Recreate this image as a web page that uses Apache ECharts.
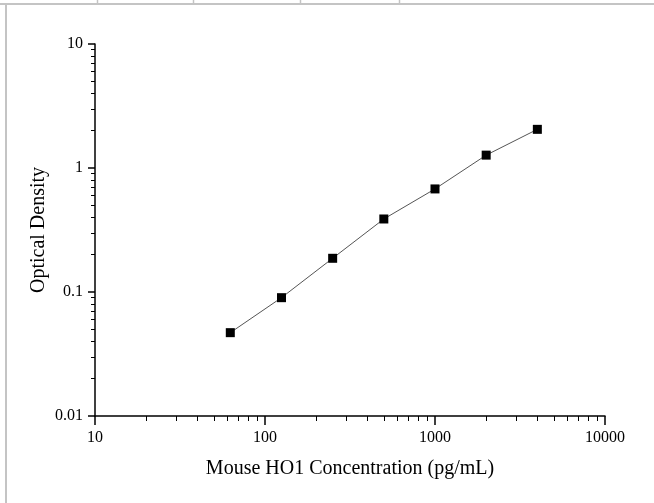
<!DOCTYPE html>
<html>
<head>
<meta charset="utf-8">
<script src="https://cdn.jsdelivr.net/npm/echarts@6/dist/echarts.min.js"></script>
<style>
html,body{margin:0;padding:0;background:#fff;}
#chart{width:654px;height:503px;}
</style>
</head>
<body>
<div id="chart"></div>
<script>
const concentrations = [62.5, 125, 250, 500, 1000, 2000, 4000];
const opticalDensity = [0.047, 0.090, 0.187, 0.388, 0.678, 1.27, 2.05];
const xMajorTicks = [10, 100, 1000, 10000];
const yMajorTicks = [0.01, 0.1, 1, 10];
const xMinorTicks = [20,30,40,50,60,70,80,90,200,300,400,500,600,700,800,900,2000,3000,4000,5000,6000,7000,8000,9000];
const yMinorTicks = [0.02,0.03,0.04,0.05,0.06,0.07,0.08,0.09,0.2,0.3,0.4,0.5,0.6,0.7,0.8,0.9,2,3,4,5,6,7,8,9];
const xTitle = 'Mouse HO1 Concentration (pg/mL)';
const yTitle = 'Optical Density';

const font = '"Liberation Serif", "Times New Roman", serif';
const chart = echarts.init(document.getElementById('chart'), null, {renderer: 'canvas'});

const axisLineStyle = {color: '#000', width: 1.5};
const labelStyle = {color: '#000', fontFamily: font, fontSize: 16};

chart.setOption({
  backgroundColor: '#fff',
  animation: false,
  grid: {left: 95, top: 44, right: 49, bottom: 87, containLabel: false},
  graphic: [
    {type: 'line', shape: {x1: 0, y1: 4, x2: 654, y2: 4}, style: {stroke: '#c4c4c4', lineWidth: 2}, silent: true},
    {type: 'line', shape: {x1: 6, y1: 4, x2: 6, y2: 503}, style: {stroke: '#c4c4c4', lineWidth: 2}, silent: true},
    {type: 'line', shape: {x1: 97.5, y1: 0, x2: 97.5, y2: 4}, style: {stroke: '#c4c4c4', lineWidth: 1.5}, silent: true},
    {type: 'line', shape: {x1: 193.5, y1: 0, x2: 193.5, y2: 4}, style: {stroke: '#c4c4c4', lineWidth: 1.5}, silent: true},
    {type: 'line', shape: {x1: 300.5, y1: 0, x2: 300.5, y2: 4}, style: {stroke: '#c4c4c4', lineWidth: 1.5}, silent: true},
    {type: 'line', shape: {x1: 399.5, y1: 0, x2: 399.5, y2: 4}, style: {stroke: '#c4c4c4', lineWidth: 1.5}, silent: true}
  ],
  xAxis: [
    {
      type: 'log', logBase: 10, min: 10, max: 10000, position: 'bottom',
      name: xTitle, nameLocation: 'middle', nameGap: 43, nameMoveOverlap: false,
      nameTextStyle: {color: '#000', fontFamily: font, fontSize: 20},
      axisLine: {show: true, onZero: false, lineStyle: axisLineStyle},
      axisTick: {show: true, inside: false, length: 9, lineStyle: {color: '#000', width: 1.5}, customValues: xMajorTicks},
      axisLabel: {show: true, margin: 14, ...labelStyle, customValues: xMajorTicks, formatter: v => String(v)},
      splitLine: {show: false}, minorTick: {show: false}
    },
    {
      type: 'log', logBase: 10, min: 10, max: 10000, position: 'bottom', offset: 0,
      axisLine: {show: false, onZero: false},
      axisTick: {show: true, inside: false, length: 5, lineStyle: {color: '#000', width: 1}, customValues: xMinorTicks},
      axisLabel: {show: false},
      splitLine: {show: false}
    }
  ],
  yAxis: [
    {
      type: 'log', logBase: 10, min: 0.01, max: 10, position: 'left',
      name: yTitle, nameLocation: 'middle', nameGap: 46, nameMoveOverlap: false,
      nameTextStyle: {color: '#000', fontFamily: font, fontSize: 20},
      axisLine: {show: true, onZero: false, lineStyle: axisLineStyle},
      axisTick: {show: true, inside: false, length: 7, lineStyle: {color: '#000', width: 1.5}, customValues: yMajorTicks},
      axisLabel: {show: true, margin: 12, ...labelStyle, customValues: yMajorTicks, formatter: v => String(v)},
      splitLine: {show: false}, minorTick: {show: false}
    },
    {
      type: 'log', logBase: 10, min: 0.01, max: 10, position: 'left', offset: 0,
      axisLine: {show: false, onZero: false},
      axisTick: {show: true, inside: false, length: 4, lineStyle: {color: '#000', width: 1}, customValues: yMinorTicks},
      axisLabel: {show: false},
      splitLine: {show: false}
    }
  ],
  series: [{
    type: 'line',
    xAxisIndex: 0, yAxisIndex: 0,
    data: concentrations.map((c, i) => [c, opticalDensity[i]]),
    symbol: 'rect', symbolSize: 9,
    itemStyle: {color: '#000'},
    lineStyle: {color: '#555', width: 1},
    smooth: false
  }]
});
</script>
</body>
</html>
